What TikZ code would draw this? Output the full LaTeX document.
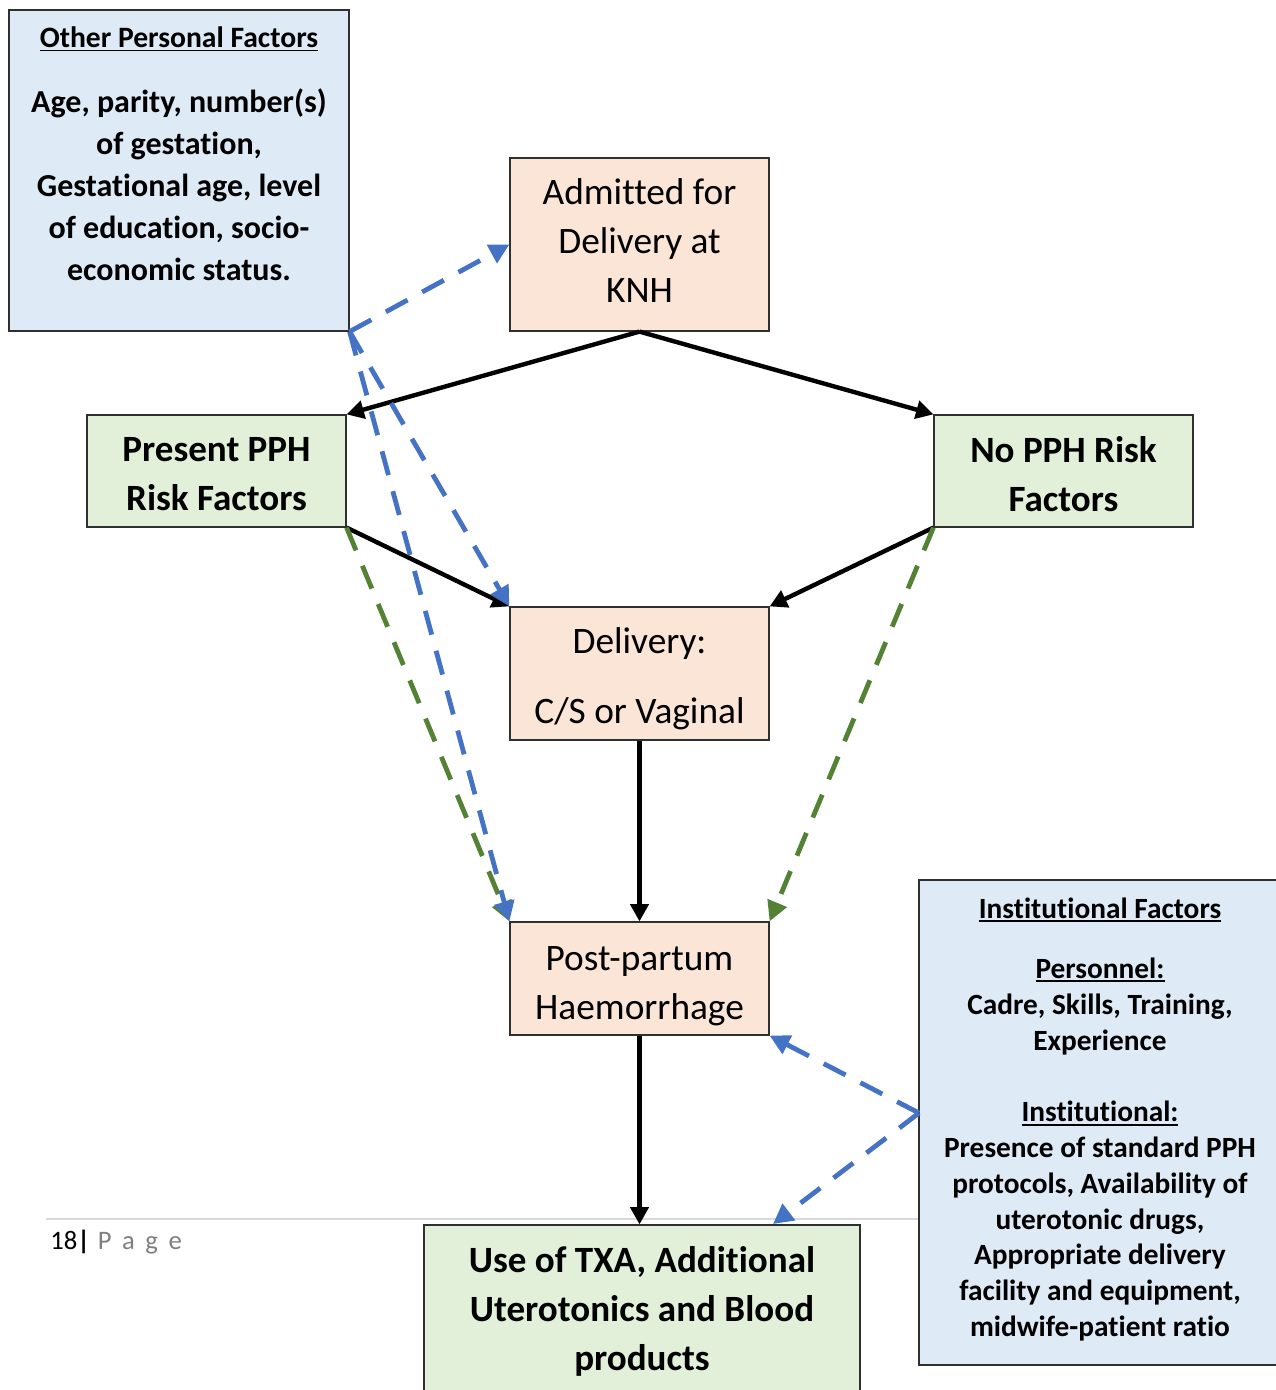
\documentclass[tikz,border=0pt]{standalone}
\usepackage{fontspec}
\setmainfont{Carlito}[Ligatures=NoCommon]
\usetikzlibrary{arrows.meta}
\definecolor{boxblue}{HTML}{DEEBF7}
\definecolor{boxsalmon}{HTML}{FBE5D6}
\definecolor{boxgreen}{HTML}{E2F0D9}
\definecolor{lineblue}{HTML}{4472C4}
\definecolor{linegreen}{HTML}{548235}
\definecolor{edgegray}{HTML}{303030}
\definecolor{pagegray}{HTML}{7F7F7F}
\definecolor{rulegray}{HTML}{D9D9D9}
\newcommand{\myul}[1]{\setbox0\hbox{#1}\rlap{\rule[-3pt]{\wd0}{1.4pt}}\box0}
\begin{document}
\begin{tikzpicture}[x=0.75pt,y=-0.75pt,
  box/.style={draw=edgegray, line width=0.9pt, inner sep=0pt},
  txt/.style={inner sep=0pt, align=center},
  reg/.style={txt, font=\fontsize{28}{36.75}\selectfont},
  bld/.style={txt, font=\fontsize{27.8}{36.75}\selectfont\bfseries},
  blk/.style={draw=black, line width=3.3pt, -{Triangle[length=13pt,width=13.5pt]}},
  bluedash/.style={draw=lineblue, line width=3.6pt, dash pattern=on 18.5pt off 12.5pt, -{Triangle[length=15pt,width=15pt]}},
  greendash/.style={draw=linegreen, line width=3.6pt, dash pattern=on 18.5pt off 12.5pt, -{Triangle[length=15pt,width=15pt]}}]
\useasboundingbox (0,0) rectangle (1276,1390);
% footer
\draw[rulegray, line width=1.2pt] (46,1219) -- (919,1219);
\node[anchor=base west, inner sep=0pt, font=\fontsize{20}{24}\selectfont] (pg) at (50,1249) {18\textbf{|}\hspace{0.3em}\textcolor{pagegray}{P\, a\, g\, e}};
% boxes
\node[box, fill=boxblue, minimum width=255pt, minimum height=240.75pt] (oth) at (179,170.5) {};
\node[txt, font=\fontsize{22.2}{31.5}\selectfont\bfseries] (othT) at (179,39) {\myul{Other Personal Factors}};
\node[txt, font=\fontsize{24}{31.5}\selectfont\bfseries] (othB) at (179,185) {Age, parity, number(s)\\of gestation,\\Gestational age, level\\of education, socio-\\economic status.};
\node[box, fill=boxsalmon, minimum width=194.25pt, minimum height=129.75pt] (adm) at (639.5,244.5) {};
\node[reg] (admT) at (639.5,240.5) {Admitted for\\Delivery at\\KNH};
\node[box, fill=boxgreen, minimum width=194.25pt, minimum height=84pt] (pres) at (216.5,471) {};
\node[bld] (presT) at (216.5,474) {Present PPH\\Risk Factors};
\node[box, fill=boxgreen, minimum width=194.25pt, minimum height=84pt] (nopph) at (1063.5,471) {};
\node[bld] (nopphT) at (1063.5,474) {No PPH Risk\\Factors};
\node[box, fill=boxsalmon, minimum width=194.25pt, minimum height=99.75pt] (del) at (639.5,673.5) {};
\node[reg] (delT) at (639.5,679) {Delivery:\\[15.75pt]C/S or Vaginal};
\node[box, fill=boxsalmon, minimum width=194.25pt, minimum height=84.75pt] (pph) at (639.5,978.5) {};
\node[reg] (pphT) at (639.5,986) {Post-partum\\Haemorrhage};
\node[box, fill=boxgreen, minimum width=327pt, minimum height=126pt] (txa) at (642,1309) {};
\node[bld] (txaT) at (642,1311) {Use of TXA, Additional\\Uterotonics and Blood\\products};
\node[box, fill=boxblue, minimum width=271.5pt, minimum height=363.75pt] (inst) at (1100,1122.5) {};
\node[txt, font=\fontsize{22}{27}\selectfont\bfseries] (instT) at (1100,910) {\myul{Institutional Factors}};
\node[txt, font=\fontsize{22}{27}\selectfont\bfseries] (instP) at (1100,1006) {\myul{Personnel:}\\Cadre, Skills, Training,\\Experience};
\node[txt, font=\fontsize{22}{26.8}\selectfont\bfseries] (instI) at (1100,1221) {\myul{Institutional:}\\Presence of standard PPH\\protocols, Availability of\\uterotonic drugs,\\Appropriate delivery\\facility and equipment,\\midwife-patient ratio};
\coordinate (instp) at (919,1113);
\coordinate (txat) at (773,1224);
% black arrows
\draw[blk] (adm.south) -- (pres.north east);
\draw[blk] (adm.south) -- (nopph.north west);
\draw[blk] (pres.south east) -- (del.north west);
\draw[blk] (nopph.south west) -- (del.north east);
\draw[blk] (del.south) -- (pph.north);
\draw[blk] (pph.south) -- (pph.south |- txa.north);
% green dashed
\draw[greendash] (pres.south east) -- (pph.north west);
\draw[greendash] (nopph.south west) -- (pph.north east);
% blue dashed
\draw[bluedash] (oth.south east) -- (adm.west);
\draw[bluedash] (oth.south east) -- (del.north west);
\draw[bluedash] (oth.south east) -- (pph.north west);
\draw[bluedash] (instp) -- (pph.south east);
\draw[bluedash] (instp) -- (txat);
\end{tikzpicture}
\end{document}
